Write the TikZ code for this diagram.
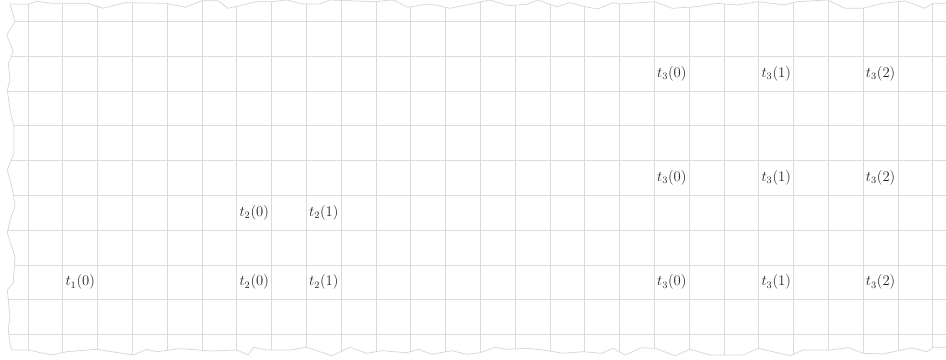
\documentclass[tikz,border=0pt]{standalone}
\begin{document}
\begin{tikzpicture}[x=0.028736cm,y=-0.028736cm,
  gridline/.style={draw=gray!28,line width=0.6pt},
  paperedge/.style={draw=gray!32,line width=0.6pt},
  lbl/.style={inner sep=0pt,text=black!85,font=\large}]
\useasboundingbox (0,0) rectangle (946,360);
\def\paperpath{(10,4) -- (28,4.3) -- (36.7,1.3) -- (51.7,3.3) -- (88,3.3) -- (103,8.3) -- (125,2.7) -- (166.7,3.3) -- (185,7.3) -- (201.7,0.7) -- (218,0.7) -- (228,8.3) -- (256.7,1.7) -- (271.7,1.7) -- (286.7,0) -- (303,4) -- (320,4) -- (330,0) -- (373,1.7) -- (393,0) -- (408,7.3) -- (427,4) -- (435,5) -- (450,8.3) -- (490,0) -- (508,5.7) -- (527,4.3) -- (538,0) -- (557,6.7) -- (570,2.7) -- (585,6.7) -- (598,9) -- (613,2.7) -- (620,4) -- (655,1.7) -- (672,8.3) -- (697,6.7) -- (717,3.3) -- (737,5) -- (758,1.7) -- (785,5) -- (797,1.7) -- (828,0) -- (845,8.3) -- (863,8.3) -- (883,3.3) -- (905,1) -- (925,8.3) -- (933,3.3) -- (946,3.3) -- (960,3)
 -- (960,348) -- (946,347.3) -- (933.3,347.3) -- (926.7,351.7) -- (911.7,347.7) -- (883.3,354) -- (863.3,353.3) -- (848.3,347.7) -- (830,350) -- (803.3,350) -- (790,355.7) -- (758.3,348.3) -- (743,355) -- (710,355) -- (690,349.3) -- (675,355.7) -- (655,348.3) -- (641.7,347.7) -- (625,355) -- (613,348.3) -- (601.7,353.3) -- (583.3,351.7) -- (563.3,353.3) -- (543.3,350) -- (526.7,348.3) -- (506.7,349.3) -- (495,347.3) -- (480,352.7) -- (466.7,354.3) -- (451.7,350.7) -- (431.7,354.3) -- (418.3,349.3) -- (406.7,352.7) -- (381.7,350.7) -- (366.7,353.3) -- (350,347.3) -- (331.7,355.7) -- (306.7,347.3) -- (290,350) -- (266.7,350) -- (253.3,347.3) -- (248.3,355) -- (236.7,350) -- (213,351) -- (180,348.7) -- (156.7,351.7) -- (146.7,349.3) -- (133.3,355) -- (96.7,349.3) -- (66.7,351.7) -- (51.7,355) -- (28,350) -- (11.7,350)
 -- (10,343.3) -- (8.3,330) -- (10,316.7) -- (7.3,290) -- (13.3,283) -- (15,256.7) -- (11.7,246.7) -- (7.3,233) -- (10,220) -- (15,206.7) -- (13.3,193.3) -- (7.3,170) -- (14,153) -- (14,126.7) -- (10,110) -- (7.3,90) -- (10,80) -- (8.3,63.3) -- (13.3,51.7) -- (6.7,35) -- (15,21.7) -- cycle}
\begin{scope}
  \clip \paperpath;
  \foreach \i in {0,...,26} \draw[gridline] ({28+34.8*\i},-5) -- ({28+34.8*\i},365);
  \foreach \j in {0,...,9} \draw[gridline] (-5,{21.3+34.8*\j}) -- (965,{21.3+34.8*\j});
\end{scope}
\draw[paperedge] \paperpath;
% labels
\node[lbl] (t10)  at (80.2,282.3) {$t_1(0)$};
\node[lbl] (t20a) at (254.2,212.7) {$t_2(0)$};
\node[lbl] (t21a) at (323.8,212.7) {$t_2(1)$};
\node[lbl] (t20b) at (254.2,282.3) {$t_2(0)$};
\node[lbl] (t21b) at (323.8,282.3) {$t_2(1)$};
\node[lbl] (t30a) at (671.8,73.5) {$t_3(0)$};
\node[lbl] (t31a) at (776.2,73.5) {$t_3(1)$};
\node[lbl] (t32a) at (880.6,73.5) {$t_3(2)$};
\node[lbl] (t30b) at (671.8,177.9) {$t_3(0)$};
\node[lbl] (t31b) at (776.2,177.9) {$t_3(1)$};
\node[lbl] (t32b) at (880.6,177.9) {$t_3(2)$};
\node[lbl] (t30c) at (671.8,282.3) {$t_3(0)$};
\node[lbl] (t31c) at (776.2,282.3) {$t_3(1)$};
\node[lbl] (t32c) at (880.6,282.3) {$t_3(2)$};
\end{tikzpicture}
\end{document}
